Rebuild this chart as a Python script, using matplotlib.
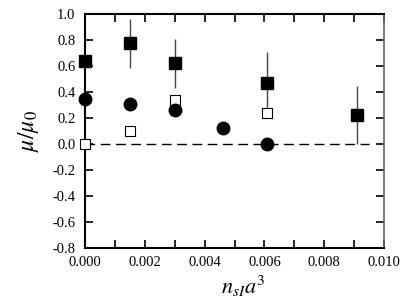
import matplotlib
matplotlib.use('Agg')
import matplotlib.pyplot as plt
from matplotlib.ticker import MultipleLocator
import numpy as np

plt.rcParams['font.family'] = ['Liberation Serif', 'DejaVu Serif']
plt.rcParams['mathtext.fontset'] = 'stix'

# filled squares with error bars
sq_x = [0.0, 0.0015, 0.003, 0.0061, 0.0091]
sq_y = [0.64, 0.775, 0.62, 0.47, 0.22]
sq_hi = [0.64, 0.96, 0.805, 0.705, 0.445]
sq_lo = [0.64, 0.585, 0.43, 0.24, 0.0]

# filled circles
ci_x = [0.0, 0.0015, 0.003, 0.0046, 0.0061]
ci_y = [0.345, 0.305, 0.265, 0.12, 0.0]

# open squares
op_x = [0.0, 0.0015, 0.003, 0.0061]
op_y = [0.0, 0.10, 0.335, 0.24]

fig = plt.figure(figsize=(4.09, 3.03), dpi=100)
ax = fig.add_axes([0.2078, 0.1815, 0.7311, 0.7723])

sq_y = np.array(sq_y)
yerr = [sq_y - np.array(sq_lo), np.array(sq_hi) - sq_y]
ax.errorbar(sq_x, sq_y, yerr=yerr, fmt='none', ecolor='#444444', elinewidth=1.0, capsize=0,
            clip_on=False, zorder=2)
ax.plot([0, 0.0095], [0, 0], color='black', lw=1.0, dashes=(7, 4), zorder=1)
ax.plot(op_x, op_y, 's', ms=7, mfc='white', mec='black', mew=0.8, ls='none', clip_on=False, zorder=3)
ax.plot(ci_x, ci_y, 'o', ms=9, color='black', ls='none', clip_on=False, zorder=4)
ax.plot(sq_x, sq_y, 's', ms=9, color='black', ls='none', clip_on=False, zorder=4)

ax.set_xlim(0, 0.010)
ax.set_ylim(-0.8, 1.0)
ax.xaxis.set_major_locator(MultipleLocator(0.002))
ax.xaxis.set_minor_locator(MultipleLocator(0.001))
ax.set_xticklabels([f'{v:.3f}' for v in ax.get_xticks()])
yt = np.arange(-0.8, 1.01, 0.2)
ax.set_yticks(yt)
ax.set_yticklabels([f'{v:.1f}' if abs(v) > 1e-9 else '0.0' for v in yt])

ax.tick_params(which='both', direction='in', top=True, right=True, labelsize=10.5, width=1.2)
ax.tick_params(which='both', length=6)
ax.tick_params(axis='x', pad=6)
ax.tick_params(axis='y', pad=7)
for s in ['left', 'bottom', 'top']:
    ax.spines[s].set_linewidth(1.5)
ax.spines['right'].set_color('#666666')
ax.spines['right'].set_linewidth(1.2)

ax.set_ylabel(r'$\mu/\mu_0$', fontsize=17, labelpad=8)
ax.set_xlabel(r'$n_{sI}a^3$', fontsize=16, labelpad=2)
ax.xaxis.set_label_coords(0.53, -0.11)

fig.savefig('out.png', dpi=100)
